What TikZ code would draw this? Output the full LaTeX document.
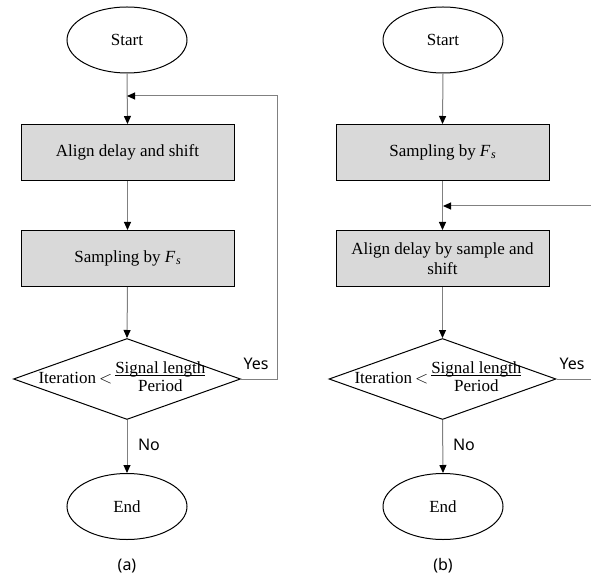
\documentclass[tikz,border=0pt]{standalone}
\usepackage{fontspec}
\setmainfont{Liberation Serif}
\newfontfamily\lblfont{Noto Sans}
\usetikzlibrary{shapes.geometric,arrows.meta}
\definecolor{boxgray}{HTML}{D9D9D9}
\definecolor{linegray}{HTML}{808080}
\newcommand{\Fsub}{\textit{F}\kern0.5pt{\fontsize{12}{12}\selectfont\raisebox{-0.35ex}{\textit{s}}}}
\newcommand{\myul}[1]{\leavevmode\setbox0\hbox{#1}\rlap{\rule[-2.5pt]{\wd0}{0.8pt}}\box0}
\newcommand{\iterfrac}{Iteration\kern3pt$<$\kern3pt$\vcenter{\hbox{\fontsize{17}{18}\selectfont\begin{tabular}{@{}c@{}}\myul{Signal length}\\Period\end{tabular}}}$}
\begin{document}
\begin{tikzpicture}[x=1pt,y=-1pt,
  font=\fontsize{17}{20}\selectfont,
  terminal/.style={ellipse,draw=black,line width=1pt,minimum width=120pt,minimum height=66pt,inner sep=0pt},
  procbox/.style={rectangle,draw=black,line width=1pt,fill=boxgray,minimum width=213pt,minimum height=56pt,inner sep=2pt,align=center},
  decision/.style={diamond,draw=black,line width=1pt,minimum width=227pt,minimum height=81pt,inner sep=0pt},
  conn/.style={draw=linegray,line width=1pt,-{Triangle[length=8pt,width=7pt,color=black]}},
  plainconn/.style={draw=linegray,line width=1pt},
  lbl/.style={font=\lblfont\fontsize{16}{18}\selectfont,inner sep=0pt}
]
\useasboundingbox (0,0) rectangle (591,577);

% ---------- (a) ----------
\node[terminal] (a0) at (127,40) {Start};
\node[procbox] (a1) at (127.5,152.5) {Align delay and shift};
\node[procbox] (a2) at (127.5,258.5) {Sampling by \Fsub};
\node[decision] (a3) at (127,379) {};
\node[inner sep=0pt] (a3t) at (122,379) {\iterfrac};
\node[terminal] (a4) at (127,506.5) {End};
\coordinate (aj) at (127,96);
\coordinate (ar) at (277,379);
\coordinate (ac) at (277,96);

\draw[conn] (a0.south) -- (a1.north);
\draw[conn] (a1.south) -- (a2.north);
\draw[conn] (a2.south) -- (a3.north);
\draw[conn] (a3.south) -- (a4.north);
\draw[conn] (a3.east) -- (ar) -- (ac) -- (aj);
\node[lbl] (ayes) at (256,364) {Yes};
\node[lbl] (ano) at (149,445) {No};
\node[lbl] (acap) at (127,566) {(a)};

% ---------- (b) ----------
\node[terminal] (b0) at (443,40) {Start};
\node[procbox] (b1) at (442.5,152.5) {Sampling by \Fsub};
\node[procbox] (b2) at (442.5,258.5) {Align delay by sample and\\shift};
\node[decision] (b3) at (442.5,379) {};
\node[inner sep=0pt] (b3t) at (438,379) {\iterfrac};
\node[terminal] (b4) at (443,506.5) {End};
\coordinate (bj) at (443,206);
\coordinate (bin) at (591,206);
\coordinate (bout) at (591,379);

\draw[conn] (b0.south) -- (b1.north);
\draw[conn] (b1.south) -- (b2.north);
\draw[conn] (b2.south) -- (b3.north);
\draw[conn] (b3.south) -- (b4.north);
\draw[plainconn] (b3.east) -- (bout);
\draw[conn] (bin) -- (bj);
\node[lbl] (byes) at (572,364) {Yes};
\node[lbl] (bno) at (464,445) {No};
\node[lbl] (bcap) at (443,566) {(b)};
\end{tikzpicture}
\end{document}
